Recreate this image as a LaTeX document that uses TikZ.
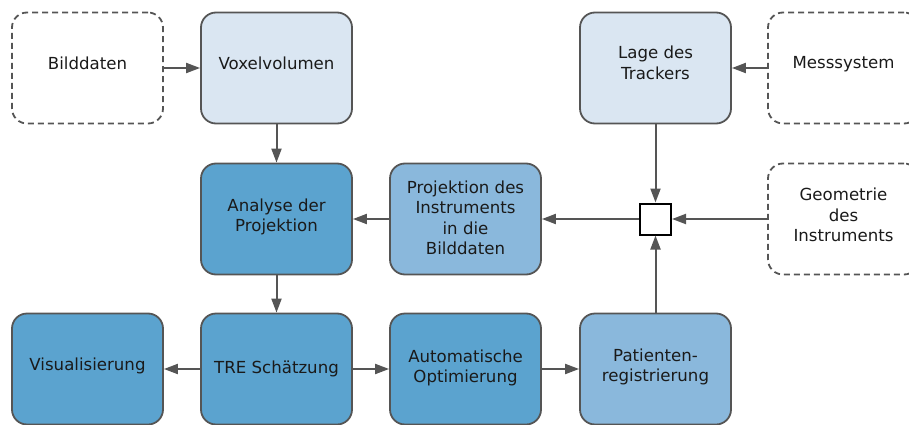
\documentclass[tikz,border=0pt]{standalone}
\usepackage{fontspec}
\setmainfont{DejaVu Sans}
\usetikzlibrary{arrows.meta}
\definecolor{edgegray}{HTML}{555555}
\definecolor{textdark}{HTML}{1A1A1A}
\definecolor{palefill}{HTML}{DAE6F2}
\definecolor{midfill}{HTML}{8AB8DC}
\definecolor{deepfill}{HTML}{5BA3CF}
% raise a line of text without changing its reported size
\newcommand{\lift}[2]{\raisebox{#1}[\height][\depth]{#2}}
\tikzset{
  x=1pt, y=-1pt,
  block/.style={draw=edgegray, line width=1.8pt, rounded corners=15pt,
    minimum width=151pt, minimum height=111pt, inner sep=0pt, align=center,
    text=textdark, font=\fontsize{16.6}{20.5}\selectfont},
  source/.style={block, dashed, dash pattern=on 6pt off 4pt, fill=white},
  pale/.style={block, fill=palefill},
  mid/.style={block, fill=midfill},
  deep/.style={block, fill=deepfill},
  junction/.style={draw=black, line width=2pt, fill=white, minimum size=31pt, inner sep=0pt},
  flow/.style={draw=edgegray, line width=2pt, -{Triangle[length=14pt,width=10pt]}}
}
\begin{document}
\begin{tikzpicture}
\useasboundingbox (0,0) rectangle (909,425);
\begin{scope}
\clip (0,0) rectangle (909,425);
% top row
\node[source] (bild) at (87.5,68) {\lift{4.5pt}{Bilddaten}};
\node[pale] (voxel) at (276.5,68) {\lift{4.5pt}{Voxelvolumen}};
\node[pale] (lage) at (655.5,68) {\lift{5pt}{Lage des}\\\lift{5pt}{Trackers}};
\node[source] (mess) at (843.5,68) {\lift{4pt}{Messsystem}};
% middle row
\node[deep] (analyse) at (276.5,219) {\lift{2pt}{Analyse der}\\\lift{2pt}{Projektion}};
\node[mid] (proj) at (465.5,219) {\lift{1pt}{Projektion des}\\\lift{1pt}{Instruments}\\\lift{1pt}{in die}\\\lift{1pt}{Bilddaten}};
\node[junction] (sq) at (655.5,219) {};
\node[source] (geo) at (843.5,219) {\lift{4pt}{Geometrie}\\\lift{4pt}{des}\\\lift{4pt}{Instruments}};
% bottom row
\node[deep] (vis) at (87.5,369) {\lift{3pt}{Visualisierung}};
\node[deep] (tre) at (276.5,369) {TRE Schätzung};
\node[deep] (auto) at (465.5,369) {\lift{1pt}{Automatische}\\\lift{1pt}{Optimierung}};
\node[mid] (pat) at (655.5,369) {\lift{2pt}{Patienten-}\\\lift{2pt}{registrierung}};
% connectors
\draw[flow] (bild) -- (voxel);
\draw[flow] (mess) -- (lage);
\draw[flow] (voxel) -- (analyse);
\draw[flow] (lage) -- (sq);
\draw[flow] (geo) -- (sq);
\draw[flow] (sq) -- (proj);
\draw[flow] (proj) -- (analyse);
\draw[flow] (analyse) -- (tre);
\draw[flow] (tre) -- (vis);
\draw[flow] (tre) -- (auto);
\draw[flow] (auto) -- (pat);
\draw[flow] (pat) -- (sq);
\end{scope}
\end{tikzpicture}
\end{document}
